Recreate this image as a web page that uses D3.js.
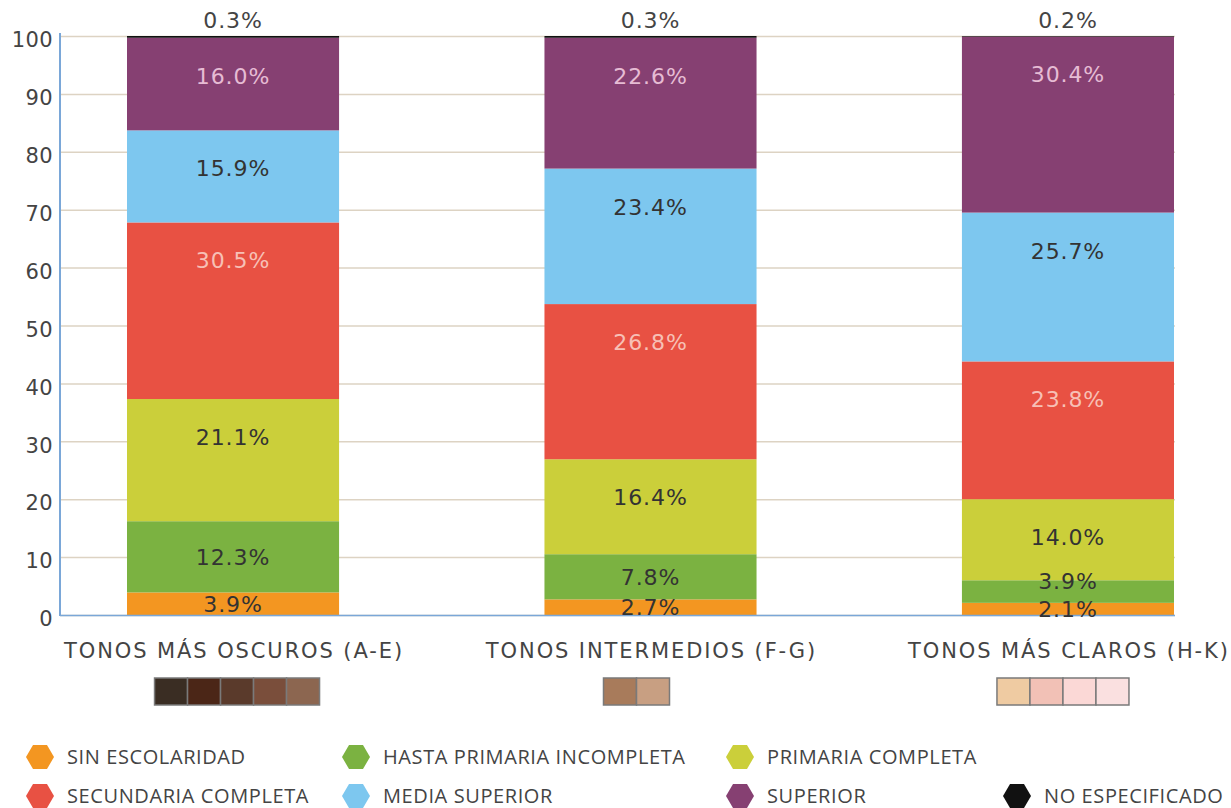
<!DOCTYPE html>
<html>
<head>
<meta charset="utf-8">
<script src="https://cdn.jsdelivr.net/npm/d3@7"></script>
<style>
  body { margin: 0; background: #fff; }
  svg { display: block; }
</style>
</head>
<body>
<script>
var WIDTH = 1231;
var HEIGHT = 808;

// data
var categories = ["TONOS MÁS OSCUROS (A-E)", "TONOS INTERMEDIOS (F-G)", "TONOS MÁS CLAROS (H-K)"];
var seriesNames = ["SIN ESCOLARIDAD", "HASTA PRIMARIA INCOMPLETA", "PRIMARIA COMPLETA",
  "SECUNDARIA COMPLETA", "MEDIA SUPERIOR", "SUPERIOR", "NO ESPECIFICADO"];
var sinEscolaridad = [3.9, 2.7, 2.1];
var hastaPrimaria = [12.3, 7.8, 3.9];
var primariaCompleta = [21.1, 16.4, 14.0];
var secundariaCompleta = [30.5, 26.8, 23.8];
var mediaSuperior = [15.9, 23.4, 25.7];
var superior = [16.0, 22.6, 30.4];
var noEspecificado = [0.3, 0.3, 0.2];
var yTicks = [0, 10, 20, 30, 40, 50, 60, 70, 80, 90, 100];
var toneSwatches = [
  ["#3a2d23", "#4b2617", "#5a3a2b", "#7a4e3b", "#8c6650"],
  ["#a87b5b", "#c89f82"],
  ["#efcba2", "#f2c1b6", "#fbd8d6", "#fae0e0"]
];

var allSeries = [sinEscolaridad, hastaPrimaria, primariaCompleta, secundariaCompleta,
  mediaSuperior, superior, noEspecificado];

var rows = categories.map(function (c, i) {
  var r = { cat: c };
  seriesNames.forEach(function (s, j) { r[s] = allSeries[j][i]; });
  return r;
});

var colors = {
  "SIN ESCOLARIDAD": "#f39621",
  "HASTA PRIMARIA INCOMPLETA": "#7bb241",
  "PRIMARIA COMPLETA": "#cbcf3a",
  "SECUNDARIA COMPLETA": "#e85143",
  "MEDIA SUPERIOR": "#7dc7ef",
  "SUPERIOR": "#864072",
  "NO ESPECIFICADO": "#111111"
};
var labelColors = {
  "SECUNDARIA COMPLETA": "#f7c0b6",
  "SUPERIOR": "#e6bcd4"
};

var LEFT = 60, RIGHT = 1175, TOP = 36, BOTTOM = 615;

var x = d3.scaleBand().domain(categories).range([127, 1174]).paddingInner(0.492).paddingOuter(0);
var y = d3.scaleLinear().domain([0, 100]).range([BOTTOM, TOP]);

var svg = d3.select("body").append("svg")
  .attr("width", WIDTH)
  .attr("height", HEIGHT);

var numFont = "'DejaVu Sans', sans-serif";

// gridlines + y labels
var yAxis = svg.append("g")
  .attr("transform", "translate(" + LEFT + ",0)")
  .call(d3.axisLeft(y).tickValues(yTicks).tickSize(-(RIGHT - LEFT)).tickPadding(7).tickFormat(d3.format("d")));
yAxis.select(".domain").remove();
yAxis.selectAll(".tick line").attr("stroke", "#ddd3c3").attr("stroke-width", 1.5);
yAxis.selectAll(".tick text")
  .attr("fill", "#444")
  .attr("dy", "0.7em")
  .attr("y", -4)
  .style("font-family", numFont)
  .style("font-size", "21px")
  .style("letter-spacing", "0.4px");

// stacked bars
var stack = d3.stack().keys(seriesNames);
var layers = stack(rows);

svg.append("g").selectAll("g")
  .data(layers)
  .enter().append("g")
  .attr("fill", function (d) { return colors[d.key]; })
  .selectAll("rect")
  .data(function (d) { return d; })
  .enter().append("rect")
  .attr("x", function (d) { return x(d.data.cat); })
  .attr("width", x.bandwidth())
  .attr("y", function (d) { return y(Math.min(d[1], 100)); })
  .attr("height", function (d) { return y(d[0]) - y(Math.min(d[1], 100)); });

// axis lines
svg.append("line").attr("x1", LEFT).attr("x2", LEFT).attr("y1", TOP - 3).attr("y2", BOTTOM + 1)
  .attr("stroke", "#7aa7d8").attr("stroke-width", 2);
svg.append("line").attr("x1", LEFT).attr("x2", RIGHT).attr("y1", BOTTOM + 0.5).attr("y2", BOTTOM + 0.5)
  .attr("stroke", "#7aa7d8").attr("stroke-width", 1.5);

// value labels: near top of each segment, pushed apart when crowded
var labelG = svg.append("g")
  .style("font-family", numFont)
  .style("font-size", "22px")
  .style("letter-spacing", "0.9px")
  .attr("text-anchor", "middle");

categories.forEach(function (c, i) {
  var prev = null;
  layers.forEach(function (layer) {
    var d = layer[i];
    var val = d.data[layer.key];
    var top, h, cy;
    if (layer.key === "NO ESPECIFICADO") {
      labelG.append("text")
        .attr("x", x(c) + x.bandwidth() / 2)
        .attr("y", 28)
        .attr("fill", "#444")
        .text(val.toFixed(1) + "%");
      return;
    }
    top = y(d[1]);
    h = y(d[0]) - top;
    cy = top + Math.min(38, h / 2);
    if (prev !== null && prev - cy < 28) cy = prev - 28;
    prev = cy;
    labelG.append("text")
      .attr("x", x(c) + x.bandwidth() / 2)
      .attr("y", cy)
      .attr("dy", "0.36em")
      .attr("fill", labelColors[layer.key] || "#333")
      .text(val.toFixed(1) + "%");
  });
});

// category labels
svg.append("g").selectAll("text")
  .data(categories)
  .enter().append("text")
  .attr("x", function (d) { return x(d) + x.bandwidth() / 2 + 1; })
  .attr("y", 658)
  .attr("text-anchor", "middle")
  .attr("fill", "#444")
  .style("font-family", numFont)
  .style("font-size", "21px")
  .style("letter-spacing", "1.9px")
  .text(function (d) { return d; });

// tone swatches
var SW = 33, SH = 27;
var swatchShift = [4, -14, -5];
categories.forEach(function (c, i) {
  var sw = toneSwatches[i];
  var cx = x(c) + x.bandwidth() / 2 + swatchShift[i];
  var x0 = cx - sw.length * SW / 2;
  svg.append("g").selectAll("rect")
    .data(sw)
    .enter().append("rect")
    .attr("x", function (d, k) { return x0 + k * SW; })
    .attr("y", 678)
    .attr("width", SW)
    .attr("height", SH)
    .attr("fill", function (d) { return d; })
    .attr("stroke", "#7a7a7a")
    .attr("stroke-width", 1.5);
});

// legend
var legendPos = [
  [40, 757], [356, 757], [740, 757],
  [40, 796], [356, 796], [740, 796], [1017, 796]
];
var hex = function (cx, cy) {
  var w = 14, h = 12, k = 7;
  return "M" + (cx - w) + "," + cy + "L" + (cx - k) + "," + (cy - h) + "L" + (cx + k) + "," + (cy - h) +
    "L" + (cx + w) + "," + cy + "L" + (cx + k) + "," + (cy + h) + "L" + (cx - k) + "," + (cy + h) + "Z";
};
var legend = svg.append("g").selectAll("g")
  .data(seriesNames)
  .enter().append("g");
legend.append("path")
  .attr("d", function (d, i) { return hex(legendPos[i][0], legendPos[i][1]); })
  .attr("fill", function (d) { return colors[d]; });
legend.append("text")
  .attr("x", function (d, i) { return legendPos[i][0] + 27; })
  .attr("y", function (d, i) { return legendPos[i][1]; })
  .attr("dy", "0.36em")
  .attr("fill", "#444")
  .style("font-family", "'Open Sans', sans-serif")
  .style("font-size", "20px")
  .style("letter-spacing", "0.6px")
  .text(function (d) { return d; });
</script>
</body>
</html>
